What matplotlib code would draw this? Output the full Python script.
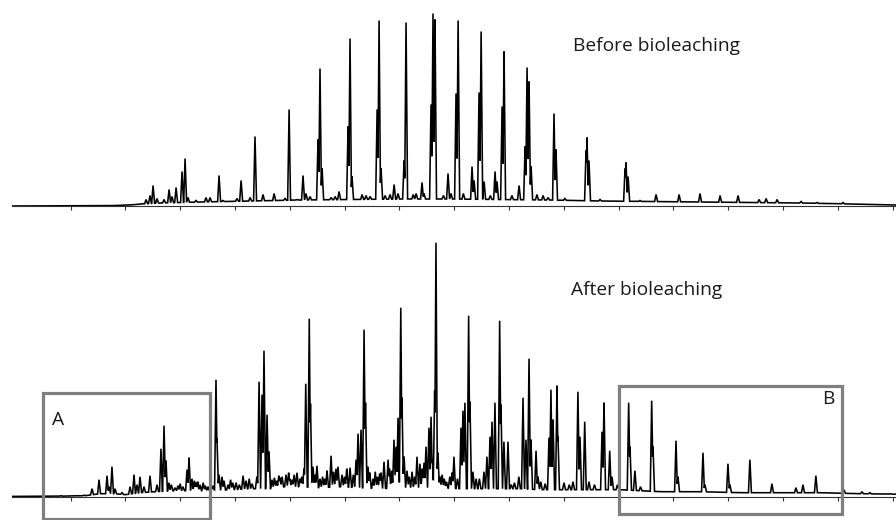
import numpy as np
import matplotlib
matplotlib.use("Agg")
import matplotlib.pyplot as plt
from matplotlib.patches import Rectangle

plt.rcParams['font.family'] = ['Open Sans', 'DejaVu Sans']

# ---------------- data (retention time in min, abundance in arbitrary units) -------------
tick_times = list(range(5, 81, 5))

before_base_t = [-0.34, 8.60, 10.42, 11.33, 13.16, 16.81, 21.37, 25.93, 30.50, 35.06,
                 39.63, 44.19, 48.75, 53.31, 57.87, 62.43, 67.00, 71.56, 76.12, 80.31]
before_base_h = [0.5, 0.8, 1.5, 2.5, 3.5, 4.5, 5.5, 6.5, 7, 7.5,
                 7.5, 7, 6.5, 5.5, 5, 4.5, 4, 3.5, 2.5, 1.5]

before_peak_t = [11.89, 12.25, 12.53, 12.89, 13.53, 13.99, 14.26, 14.63, 15.17, 15.45,
                 15.72, 16.45, 17.36, 17.73, 18.55, 18.91, 20.19, 20.56, 21.38, 21.83,
                 22.56, 23.57, 24.57, 24.94, 25.67, 26.21, 26.48, 26.85, 27.58, 27.76,
                 27.95, 28.77, 29.14, 29.50, 30.32, 30.50, 30.68, 31.60, 31.96, 32.33,
                 32.97, 33.15, 33.33, 33.70, 34.15, 34.52, 34.88, 35.43, 35.61, 36.26,
                 36.53, 37.07, 37.25, 37.89, 38.07, 38.25, 39.02, 39.44, 39.71, 40.17,
                 40.36, 40.84, 41.63, 41.82, 42.27, 42.46, 42.73, 43.30, 43.73, 43.91,
                 44.37, 44.55, 45.27, 45.92, 46.47, 46.65, 46.83, 47.02, 47.55, 48.11,
                 48.57, 49.11, 49.29, 50.10, 52.03, 52.12, 52.30, 53.31, 55.59, 55.68,
                 55.87, 56.95, 58.42, 60.52, 62.43, 64.26, 65.90, 67.82, 68.46, 69.46,
                 71.65, 73.11, 75.48]
before_peak_h = [7, 11, 21, 8, 7, 17, 10, 19, 35, 48,
                 9, 6, 9, 9, 31, 6, 8, 26, 9, 70,
                 12, 13, 8, 97, 7, 31, 13, 10, 67, 138,
                 38, 9, 10, 15, 80, 168, 30, 12, 11, 10,
                 97, 186, 38, 11, 12, 22, 13, 46, 184, 12,
                 13, 24, 13, 102, 193, 187, 11, 33, 13, 113,
                 186, 13, 40, 26, 114, 175, 25, 11, 35, 25,
                 100, 155, 11, 21, 60, 139, 125, 40, 12, 11,
                 9, 93, 57, 8, 56, 69, 46, 7, 38, 44,
                 30, 6, 12, 12, 13, 11, 11, 7, 8, 7,
                 5, 4, 4]

after_base_t = [-0.34, 4.04, 6.33, 7.69, 9.06, 9.97, 11.34, 12.70, 14.53, 16.81,
                18.18, 19.55, 21.37, 23.20, 24.57, 25.94, 27.76, 29.59, 31.41, 33.24,
                35.06, 36.88, 38.70, 40.53, 42.35, 44.18, 46.00, 47.83, 49.65, 51.48,
                53.31, 55.13, 56.95, 58.78, 62.43, 66.08, 69.73, 73.38, 77.03, 80.31]
after_base_h = [0.3, 0.5, 1, 3, 3, 2, 4, 5, 6, 6,
                6, 7, 8, 8, 10, 10, 9, 10, 9, 8,
                9, 9, 9, 8, 8, 8, 8, 7, 7, 7,
                7, 7, 6, 5, 5, 4, 4, 4, 3, 2.5]

after_peak_t = [4.13, 5.59, 6.23, 6.96, 7.60, 8.33, 8.51, 8.78, 9.06, 9.70,
                10.43, 10.79, 11.06, 11.34, 11.70, 12.25, 12.89, 13.25, 13.53, 13.71,
                13.98, 14.20, 14.53, 14.80, 15.00, 15.26, 15.63, 15.81, 16.08, 16.30,
                16.45, 16.60, 16.81, 17.10, 17.30, 17.54, 17.80, 18.00, 18.27, 18.36,
                18.55, 18.82, 19.00, 19.37, 19.60, 19.80, 20.10, 20.40, 20.74, 21.01,
                21.30, 21.56, 22.00, 22.20, 22.47, 22.65, 22.93, 23.11, 23.38, 23.60,
                23.80, 24.00, 24.11, 24.30, 24.66, 24.90, 25.00, 25.21, 25.40, 25.66,
                25.94, 26.10, 26.30, 26.46, 26.78, 26.89, 27.12, 27.30, 27.48, 27.76,
                28.00, 28.20, 28.40, 28.77, 29.00, 29.22, 29.40, 29.77, 30.00, 30.20,
                30.50, 30.80, 31.05, 31.23, 31.50, 31.78, 31.91, 32.14, 32.30, 32.60,
                32.80, 33.00, 33.20, 33.33, 33.60, 33.97, 34.10, 34.30, 34.51, 34.70,
                34.88, 35.13, 35.24, 35.43, 35.70, 35.90, 36.16, 36.40, 36.61, 36.88,
                37.10, 37.25, 37.43, 37.70, 37.89, 38.00, 38.22, 38.34, 38.52, 38.70,
                38.90, 39.10, 39.30, 39.60, 39.80, 39.98, 40.30, 40.62, 40.80, 40.98,
                41.32, 41.44, 41.71, 42.00, 42.30, 42.72, 42.99, 43.27, 43.45, 43.72,
                44.15, 44.27, 44.54, 44.91, 45.20, 45.50, 45.90, 46.28, 46.55, 46.83,
                47.01, 47.47, 47.65, 47.90, 48.30, 48.65, 48.83, 49.02, 49.38, 49.47,
                50.02, 50.50, 50.84, 51.29, 51.48, 51.91, 52.30, 52.80, 53.49, 53.67,
                54.19, 54.40, 54.90, 55.92, 56.04, 56.49, 57.00, 58.02, 58.14, 60.24,
                60.42, 62.70, 62.88, 64.98, 65.16, 66.98, 68.99, 71.18, 71.82, 73.00,
                75.56, 77.20, 77.93, 79.76]
after_peak_h = [1, 1, 1.5, 8, 17, 21, 10, 30, 8, 4,
                10, 22, 12, 20, 10, 21, 12, 48, 71, 36,
                14, 12, 9, 11, 13, 10, 27, 39, 18, 16,
                14, 15, 12, 14, 11, 10, 13, 11, 117, 58,
                22, 20, 16, 12, 17, 14, 14, 12, 21, 16,
                18, 13, 20, 115, 102, 146, 82, 45, 17, 19,
                16, 21, 19, 20, 22, 24, 18, 17, 22, 24,
                18, 20, 28, 113, 178, 93, 30, 22, 31, 18,
                20, 18, 26, 41, 25, 28, 30, 22, 20, 28,
                29, 22, 37, 63, 67, 167, 94, 30, 24, 18,
                25, 20, 23, 24, 35, 37, 28, 26, 57, 50,
                79, 189, 99, 40, 26, 20, 25, 20, 40, 33,
                28, 34, 50, 69, 80, 38, 106, 254, 44, 20,
                22, 18, 15, 20, 24, 40, 18, 69, 86, 94,
                181, 95, 25, 18, 18, 25, 40, 60, 75, 94,
                176, 92, 55, 55, 12, 14, 20, 99, 57, 138,
                57, 46, 20, 15, 13, 59, 107, 77, 111, 60,
                14, 12, 15, 105, 60, 75, 15, 12, 65, 94,
                46, 20, 12, 94, 50, 26, 10, 96, 50, 56,
                20, 44, 12, 33, 12, 37, 13, 9, 12, 21,
                7, 5, 4, 3]

labels = ["Before bioleaching", "After bioleaching"]


# ---------------- drawing ----------------
def trace(base_t, base_h, peak_t, peak_h, t):
    base = np.interp(t, base_t, base_h)
    y = base.copy()
    w = 0.13
    for t0, h in zip(peak_t, peak_h):
        b0 = np.interp(t0, base_t, base_h)
        shape = np.clip(1 - np.abs(t - t0) / w, 0, None)
        y = np.maximum(y, base + (h - b0) * shape)
    return y


W, H = 896, 520
fig = plt.figure(figsize=(W / 100, H / 100), dpi=100)
xlim = (-0.34, 80.31)
t = np.arange(xlim[0], xlim[1], 0.01)

# top panel: axis line at y=206.5 px, bottom panel: axis line at y=496.7 px
ax1 = fig.add_axes([12 / W, 1 - 206.5 / H, 1 - 12 / W, 206.5 / H])
ax2 = fig.add_axes([12 / W, 1 - 496.7 / H, 1 - 12 / W, 266.7 / H])

for ax, bt, bh, pt, ph, ytop in [
        (ax1, before_base_t, before_base_h, before_peak_t, before_peak_h, 206.5),
        (ax2, after_base_t, after_base_h, after_peak_t, after_peak_h, 266.7)]:
    ax.plot(t, trace(bt, bh, pt, ph, t), color='black', lw=1.15, solid_joinstyle='miter')
    ax.set_xlim(*xlim)
    ax.set_ylim(0, ytop)
    for s in ['top', 'right', 'left']:
        ax.spines[s].set_visible(False)
    ax.spines['bottom'].set_color('#333333')
    ax.spines['bottom'].set_linewidth(0.8)
    ax.set_yticks([])
    ax.set_xticks(tick_times)
    ax.set_xticklabels([])
    ax.tick_params(axis='x', direction='out', length=3, width=0.8, color='#333333')
    ax.patch.set_alpha(0)

fig.text(573 / W, 1 - 46 / H, labels[0], fontsize=13.8, color='#1a1a1a',
         ha='left', va='center')
fig.text(571 / W, 1 - 290 / H, labels[1], fontsize=13.8, color='#1a1a1a',
         ha='left', va='center')

box_color = '#7f7f7f'
fig.patches.append(Rectangle((43 / W, 1 - 519 / H), (210 - 43) / W, (519 - 393) / H,
                             transform=fig.transFigure, fill=False,
                             edgecolor=box_color, lw=2.3))
fig.patches.append(Rectangle((619 / W, 1 - 514 / H), (842 - 619) / W, (514 - 386) / H,
                             transform=fig.transFigure, fill=False,
                             edgecolor=box_color, lw=2.3))
fig.text(52 / W, 1 - 420 / H, "A", fontsize=13.8, color='#1a1a1a', ha='left', va='center')
fig.text(822 / W, 1 - 399 / H, "B", fontsize=13.8, color='#1a1a1a', ha='left', va='center')

fig.savefig("out.png", dpi=100)
